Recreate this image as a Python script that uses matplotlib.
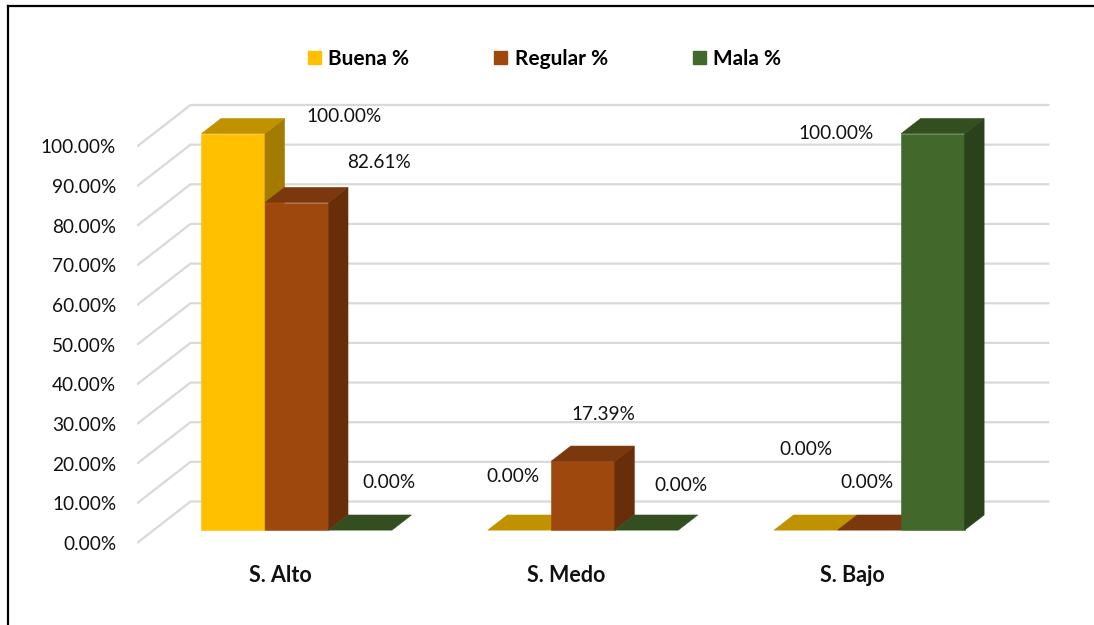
import matplotlib

matplotlib.use("Agg")
import matplotlib.pyplot as plt
from matplotlib.lines import Line2D
from matplotlib.patches import Patch, Polygon

plt.rcParams["font.family"] = ["Lato", "DejaVu Sans"]

categories = ["S. Alto", "S. Medo", "S. Bajo"]
series = ["Buena %", "Regular %", "Mala %"]
buena = [100.00, 0.00, 0.00]
regular = [82.61, 17.39, 0.00]
mala = [0.00, 0.00, 100.00]
y_ticks = [0, 10, 20, 30, 40, 50, 60, 70, 80, 90, 100]

# face colours per series: front, top, side
FRONT = ["#FFC000", "#9E480E", "#43682B"]
TOP = ["#C09200", "#7B380D", "#334F20"]
SIDE = ["#A27B00", "#682E0A", "#2A421B"]
GRID = "#D9D9D9"

# label offsets in pixels from the top-front centre of each bar
LABEL_OFFSETS = [
    [(111, 17), (82, 40), (29, 48)],
    [(-7, 54), (20, 47), (34, 45)],
    [(0, 81), (-2, 48), (-97, 0)],
]

W, H = 1094, 625
PX_X = 286.3          # pixels per category
PX_Y = 3.965          # pixels per percentage point
X0, Y0 = 137, 543     # front-left floor corner in pixels
DX = 53.5 / PX_X      # oblique depth vector (data units, full depth)
DY = 41.5 / PX_Y
D0, D1 = 0.31, 0.675  # bar front / back depth
BAR_W = 63.5 / PX_X

fig = plt.figure(figsize=(W / 100, H / 100), dpi=100)
ax = fig.add_axes([X0 / W, 0, 1 - X0 / W, 1])
ax.set_xlim(0, (W - X0) / PX_X)
ax.set_ylim(-(H - Y0) / PX_Y, Y0 / PX_Y)
for s in ax.spines.values():
    s.set_visible(False)
ax.set_xticks([])
ax.set_yticks(y_ticks)
ax.set_yticklabels([f"{v:.2f}%" for v in y_ticks], fontsize=13.7, color="#111111")
ax.tick_params(axis="y", length=0, pad=15)

# side wall diagonals + back wall gridlines
n = len(categories)
for v in y_ticks:
    ax.plot([0, DX, n + DX], [v, v + DY, v + DY], color=GRID, lw=1.6,
            solid_capstyle="butt", zorder=1)


def draw_bar(x_left, value, j):
    xr = x_left + BAR_W
    fx, fy = D0 * DX, D0 * DY
    bx, by = D1 * DX, D1 * DY
    kw = dict(closed=True, lw=0.4, zorder=2 + j)
    if value > 0:
        ax.add_patch(Polygon([(x_left + fx, fy), (xr + fx, fy),
                              (xr + fx, value + fy), (x_left + fx, value + fy)],
                             fc=FRONT[j], ec=FRONT[j], **kw))
        ax.add_patch(Polygon([(xr + fx, fy), (xr + bx, by),
                              (xr + bx, value + by), (xr + fx, value + fy)],
                             fc=SIDE[j], ec=SIDE[j], **kw))
    ax.add_patch(Polygon([(x_left + fx, value + fy), (xr + fx, value + fy),
                          (xr + bx, value + by), (x_left + bx, value + by)],
                         fc=TOP[j], ec=TOP[j], **kw))


values = [buena, regular, mala]
for i in range(n):
    for j, vals in enumerate(values):
        xl = i + 0.5 - 1.5 * BAR_W + j * BAR_W
        draw_bar(xl, vals[i], j)
        cx = xl + BAR_W / 2 + D0 * DX
        ax.annotate(f"{vals[i]:.2f}%", xy=(cx, vals[i] + D0 * DY),
                    xytext=LABEL_OFFSETS[i][j], textcoords="offset pixels",
                    ha="center", va="center", fontsize=13.7, color="#111111",
                    zorder=10)
    ax.text(i + 0.5, -(575 - Y0) / PX_Y, categories[i], ha="center", va="center",
            fontsize=15.5, fontweight="bold", color="#111111")

handles = [Patch(fc=c, ec=c) for c in FRONT]
fig.legend(handles, series, loc="center left", bbox_to_anchor=(289 / W, 1 - 59 / H),
           ncol=3, frameon=False, handlelength=0.62, handleheight=0.62,
           handletextpad=0.35, columnspacing=4.1,
           prop={"weight": "bold", "size": 15})

# chart frame (left and top edges)
fig.add_artist(Line2D([8 / W, 8 / W], [0, 1 - 6 / H], color="black", lw=1.6))
fig.add_artist(Line2D([8 / W, 1], [1 - 6 / H, 1 - 6 / H], color="black", lw=1.6))

fig.savefig("out.png", dpi=100)
